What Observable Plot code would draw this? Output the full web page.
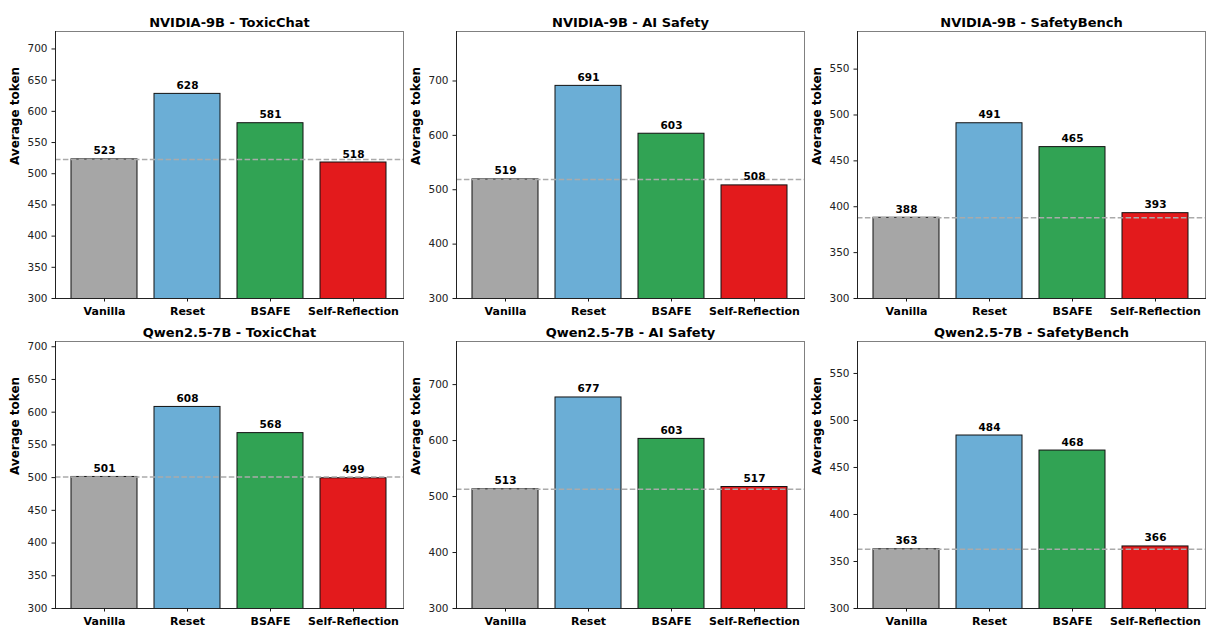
<!DOCTYPE html>
<html>
<head>
<meta charset="utf-8">
<script src="https://cdn.jsdelivr.net/npm/d3@7"></script>
<script src="https://cdn.jsdelivr.net/npm/@observablehq/plot@0.6"></script>
<style>
  html, body { margin: 0; padding: 0; background: #fff; }
  #wrap { position: relative; width: 1210px; height: 630px; overflow: hidden; background: #fff; }
  .cell { position: absolute; }
  .cell svg { overflow: visible; }
</style>
</head>
<body>
<div id="wrap"></div>
<script>
const categories = ["Vanilla", "Reset", "BSAFE", "Self-Reflection"];
const barColors = ["#a6a6a6", "#6baed6", "#31a354", "#e31a1c"];
const titles = [
  "NVIDIA-9B - ToxicChat", "NVIDIA-9B - AI Safety", "NVIDIA-9B - SafetyBench",
  "Qwen2.5-7B - ToxicChat", "Qwen2.5-7B - AI Safety", "Qwen2.5-7B - SafetyBench"
];
const nvidiaToxicChat = [523, 628, 581, 518];
const nvidiaAISafety = [519, 691, 603, 508];
const nvidiaSafetyBench = [388, 491, 465, 393];
const qwenToxicChat = [501, 608, 568, 499];
const qwenAISafety = [513, 677, 603, 517];
const qwenSafetyBench = [363, 484, 468, 366];
const ticksToxicChat = [300, 350, 400, 450, 500, 550, 600, 650, 700];
const ticksAISafety = [300, 400, 500, 600, 700];
const ticksSafetyBench = [300, 350, 400, 450, 500, 550];
const yBase = 300;
const yHeadroom = 100;
const yLabel = "Average token";

const panels = [
  {title: titles[0], values: nvidiaToxicChat, ticks: ticksToxicChat, row: 0, col: 0},
  {title: titles[1], values: nvidiaAISafety, ticks: ticksAISafety, row: 0, col: 1},
  {title: titles[2], values: nvidiaSafetyBench, ticks: ticksSafetyBench, row: 0, col: 2},
  {title: titles[3], values: qwenToxicChat, ticks: ticksToxicChat, row: 1, col: 0},
  {title: titles[4], values: qwenAISafety, ticks: ticksAISafety, row: 1, col: 1},
  {title: titles[5], values: qwenSafetyBench, ticks: ticksSafetyBench, row: 1, col: 2}
];

const font = "'DejaVu Sans', sans-serif";

function makePanel(p) {
  const data = categories.map((c, i) => ({category: c, value: p.values[i], color: barColors[i]}));
  const top = p.row === 0 ? 31 : 26;
  const bottom = p.row === 0 ? 17 : 22;
  return Plot.plot({
    width: 405,
    height: 315,
    marginLeft: 55,
    marginRight: 2,
    marginTop: top,
    marginBottom: bottom,
    style: {fontFamily: font, fontSize: "10.5px", color: "#1a1a1a", background: "transparent", overflow: "visible"},
    x: {type: "band", domain: categories, paddingInner: 0.2, paddingOuter: 0.19, axis: null, label: null},
    y: {domain: [yBase, d3.max(p.values) + yHeadroom], axis: null, label: null},
    marks: [
      Plot.barY(data, {x: "category", y: "value", fill: "color", stroke: "#111", strokeWidth: 1, clip: true}),
      Plot.ruleY([p.values[0]], {stroke: "#aaaaaa", strokeWidth: 1.5, strokeDasharray: "5.5,2.4"}),
      Plot.frame({anchor: "top", stroke: "#808080", strokeWidth: 1}),
      Plot.frame({anchor: "right", stroke: "#808080", strokeWidth: 1}),
      Plot.frame({anchor: "left", stroke: "#222", strokeWidth: 1}),
      Plot.frame({anchor: "bottom", stroke: "#222", strokeWidth: 1}),
      Plot.axisY(p.ticks, {tickSize: 3.5, tickPadding: 4.5, label: null, tickFormat: d => String(d), fill: "#222"}),
      Plot.axisX({tickSize: 3.5, tickPadding: 5, label: null, fontWeight: "bold", fontSize: 11, fill: "#000"}),
      Plot.text(data, {x: "category", y: "value", text: d => String(d.value), lineAnchor: "bottom", dy: -5, fontWeight: "bold", fill: "#000"}),
      Plot.text([p.title], {text: d => d, frameAnchor: "top", lineAnchor: "bottom", dy: -5, fontSize: 13, fontWeight: "bold", fill: "#000"}),
      Plot.text([yLabel], {text: d => d, frameAnchor: "left", rotate: -90, dx: -40, fontSize: 12, fontWeight: "bold", fill: "#000"})
    ]
  });
}

const wrap = document.getElementById("wrap");
const colLeft = [0, 401, 802];
const rowTop = [0, 315];
for (const p of panels) {
  const div = document.createElement("div");
  div.className = "cell";
  div.style.left = colLeft[p.col] + "px";
  div.style.top = rowTop[p.row] + "px";
  div.appendChild(makePanel(p));
  wrap.appendChild(div);
}
</script>
</body>
</html>
